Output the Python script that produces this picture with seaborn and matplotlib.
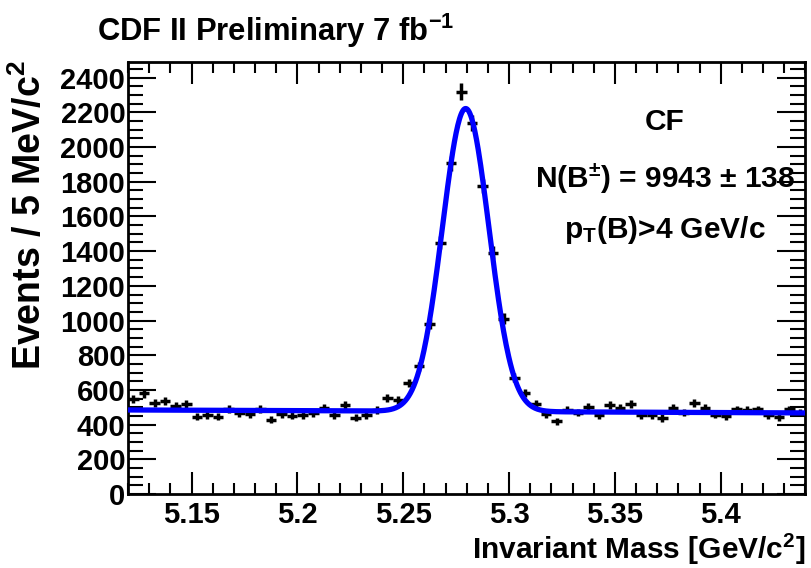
import numpy as np
import pandas as pd
import matplotlib
matplotlib.use("Agg")
import matplotlib.pyplot as plt
from matplotlib.ticker import MultipleLocator
import seaborn as sns

# ---- data ----
bin_low = 5.12
bin_width = 0.005
counts = [550, 580, 523, 535, 510, 517, 446, 455, 446, 492,
          465, 461, 491, 428, 460, 453, 455, 465, 495, 457,
          512, 440, 455, 485, 555, 543, 640, 736, 980, 1448,
          1905, 2318, 2138, 1775, 1390, 1010, 670, 581, 520, 462,
          421, 487, 470, 504, 455, 516, 498, 520, 455, 455,
          438, 496, 470, 523, 498, 458, 451, 488, 487, 488,
          456, 444, 488, 470]

# fit parameters (gaussian signal + linear background)
fit_mean = 5.2795
fit_sigma = 0.0110
fit_amp = 1745.0
bkg_left = 485.0
bkg_right = 468.0

title = "CDF II Preliminary 7 fb$^{-1}$"
xlabel = "Invariant Mass [GeV/c$^{2}$]"
ylabel = "Events / 5 MeV/c$^{2}$"
texts = ["CF", "N(B$^{\\pm}$) = 9943 $\\pm$ 138", "p$_{T}$(B)>4 GeV/c"]

# ---- style ----
sns.set_style("ticks")
plt.rcParams["font.family"] = ["Liberation Sans", "DejaVu Sans"]
plt.rcParams["font.weight"] = "bold"
plt.rcParams["text.color"] = "black"
plt.rcParams["axes.labelcolor"] = "black"
plt.rcParams["xtick.color"] = "black"
plt.rcParams["ytick.color"] = "black"
plt.rcParams["axes.edgecolor"] = "black"
plt.rcParams["mathtext.fontset"] = "custom"
plt.rcParams["mathtext.rm"] = "Liberation Sans:bold"
plt.rcParams["mathtext.it"] = "Liberation Sans:bold"
plt.rcParams["mathtext.bf"] = "Liberation Sans:bold"
plt.rcParams["mathtext.sf"] = "Liberation Sans:bold"

centers = bin_low + bin_width * (np.arange(len(counts)) + 0.5)
df = pd.DataFrame({"mass": centers, "events": counts})

xlo, xhi = 5.12, 5.44
xf = np.linspace(xlo, xhi, 800)
bkg = bkg_left + (bkg_right - bkg_left) * (xf - xlo) / (xhi - xlo)
yf = bkg + fit_amp * np.exp(-0.5 * ((xf - fit_mean) / fit_sigma) ** 2)
fit_df = pd.DataFrame({"mass": xf, "fit": yf})

fig = plt.figure(figsize=(8.11, 5.68), dpi=100)
ax = fig.add_axes([0.158, 0.130, 0.835, 0.761])

ax.errorbar(df["mass"], df["events"], xerr=bin_width / 2,
            yerr=np.sqrt(df["events"]), fmt="none", ecolor="black",
            elinewidth=2.5, capsize=0, zorder=2)
sns.lineplot(data=fit_df, x="mass", y="fit", ax=ax, color="#0000ff",
             linewidth=3.8, zorder=3)

ax.set_xlim(xlo, xhi)
ax.set_ylim(0, 2490)
ax.xaxis.set_major_locator(MultipleLocator(0.05))
ax.xaxis.set_minor_locator(MultipleLocator(0.01))
ax.yaxis.set_major_locator(MultipleLocator(200))
ax.yaxis.set_minor_locator(MultipleLocator(50))
ax.set_xticks([5.15, 5.2, 5.25, 5.3, 5.35, 5.4])
ax.set_xticklabels(["5.15", "5.2", "5.25", "5.3", "5.35", "5.4"])

ax.tick_params(which="both", direction="in", top=True, right=True, width=1.5,
               color="black", labelcolor="black")
ax.tick_params(axis="x", which="major", length=16, labelsize=21, pad=5)
ax.tick_params(axis="x", which="minor", length=8)
ax.tick_params(axis="y", which="major", length=20, labelsize=21, pad=2)
ax.tick_params(axis="y", which="minor", length=11)
for lab in ax.get_xticklabels() + ax.get_yticklabels():
    lab.set_fontweight("bold")
for s in ax.spines.values():
    s.set_linewidth(2)
    s.set_visible(True)
    s.set_color("black")

ax.set_xlabel(xlabel, fontsize=21.5, fontweight="bold", color="black")
ax.xaxis.set_label_coords(1.0, -0.087)
ax.xaxis.label.set_horizontalalignment("right")
ax.set_ylabel(ylabel, fontsize=27, fontweight="bold", color="black")
ax.yaxis.set_label_coords(-0.146, 1.005)
ax.yaxis.label.set_verticalalignment("center")
ax.yaxis.label.set_horizontalalignment("right")

fig.text(0.12, 0.945, title, fontsize=22.3, fontweight="bold", ha="left",
         va="center", color="black")

ys = [0.785, 0.686, 0.595]
for t, y in zip(texts, ys):
    fig.text(0.82, y, t, fontsize=21.5, fontweight="bold", ha="center",
             va="center", color="black")

fig.savefig("out.png", dpi=100)
